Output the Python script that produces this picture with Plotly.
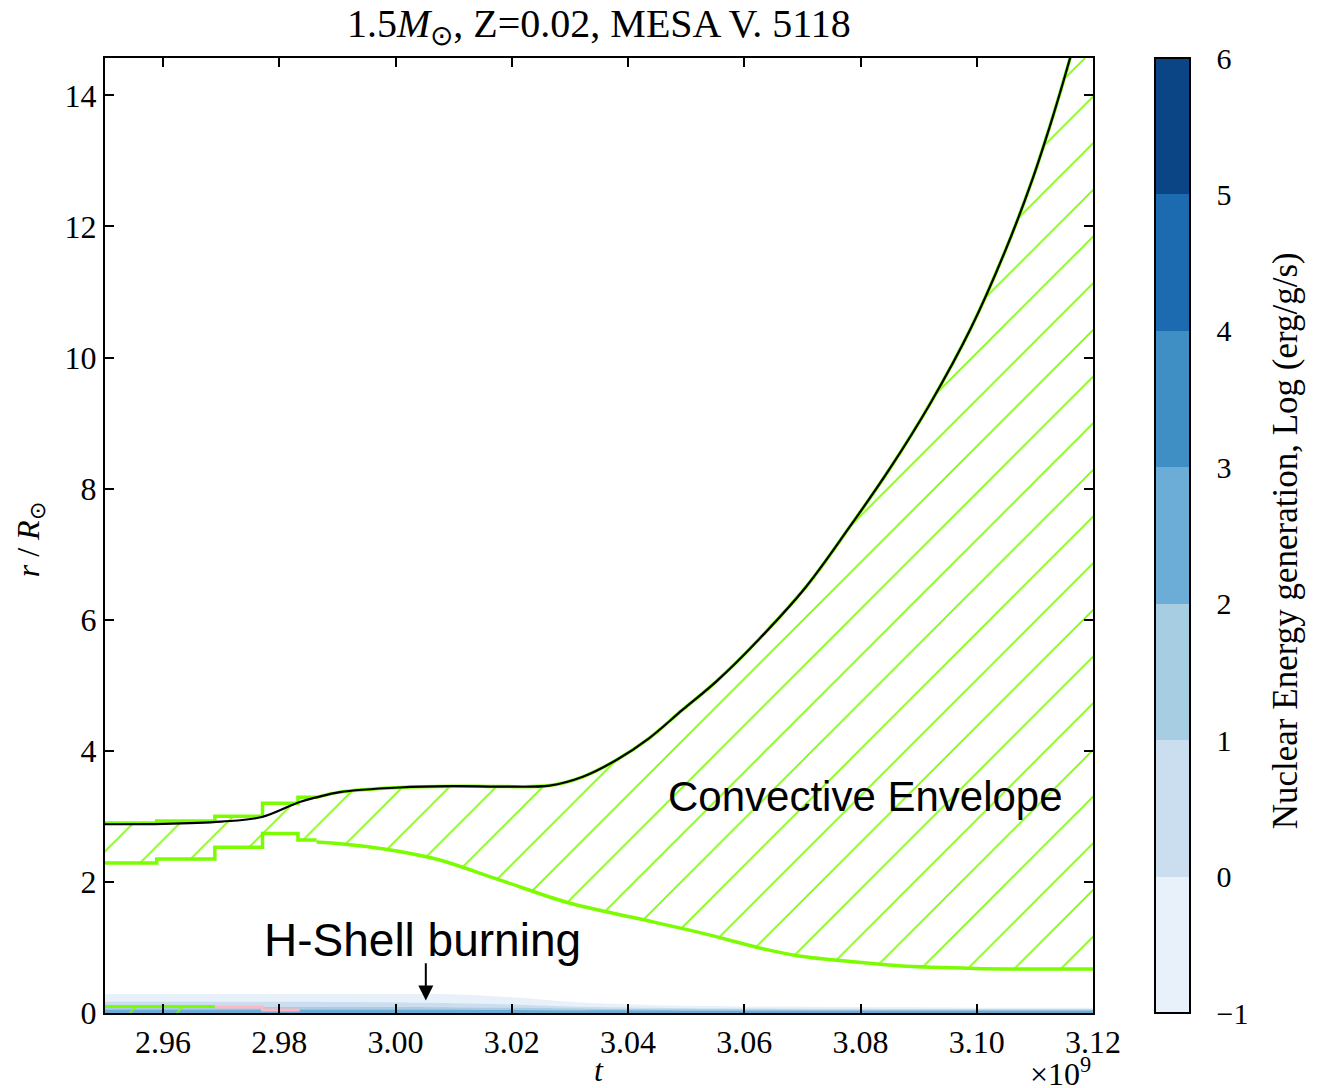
import plotly.graph_objects as go

# ---------------- data (t in units of 1e9 yr, r in R_sun) ----------------
# stellar surface (black line)
surf_t = [2.950, 2.960, 2.970, 2.977, 2.9835, 2.9864, 2.9904, 3.0007, 3.010, 3.018, 3.0265,
          3.0321, 3.038, 3.0436, 3.0493, 3.0552, 3.0625, 3.0706, 3.0780, 3.0850,
          3.0920, 3.0990, 3.1050, 3.1095, 3.1130, 3.1160, 3.120]
surf_r = [2.88, 2.885, 2.92, 2.99, 3.22, 3.29, 3.37, 3.44, 3.46, 3.455, 3.47,
          3.60, 3.86, 4.19, 4.62, 5.06, 5.70, 6.50, 7.40, 8.30,
          9.30, 10.45, 11.65, 12.70, 13.65, 14.55, 15.85]

# convective envelope: stepped part (early models)
step_t = [2.950, 2.9589, 2.9689, 2.9771, 2.9832]
step_end_t = 2.9864
env_top_step_r = [2.90, 2.93, 3.00, 3.20, 3.29]
env_bot_step_r = [2.29, 2.35, 2.53, 2.74, 2.64]

# convective envelope: lower boundary, smooth part
env_bot_t = [2.9864, 2.995, 3.0064, 3.0179, 3.0294, 3.0407, 3.0522, 3.0637,
             3.0694, 3.0801, 3.0866, 3.0995, 3.116, 3.120]
env_bot_r = [2.61, 2.54, 2.36, 2.03, 1.69, 1.46, 1.23, 0.97,
             0.87, 0.77, 0.72, 0.68, 0.67, 0.67]

# small convective core region near the centre
core_conv_t = [2.950, 2.9689]
core_conv_r = [0.10, 0.10]
pink_t = [2.9689, 2.9771, 2.9835]
pink_r = [0.09, 0.045, 0.045]

# nuclear energy generation bands (upper edge of each log level region)
burn_t = [2.95, 2.98, 3.00, 3.01, 3.02, 3.03, 3.04, 3.06, 3.08, 3.10, 3.12]
burn_levels = [-1, 0, 1, 2]
burn_top_r = {
    -1: [0.29, 0.29, 0.29, 0.285, 0.24, 0.17, 0.13, 0.10, 0.09, 0.08, 0.08],
    0:  [0.17, 0.17, 0.16, 0.15, 0.13, 0.10, 0.085, 0.07, 0.065, 0.06, 0.06],
    1:  [0.09, 0.09, 0.09, 0.085, 0.08, 0.07, 0.06, 0.055, 0.05, 0.05, 0.05],
    2:  [0.05, 0.05, 0.05, 0.05, 0.045, 0.04, 0.04, 0.035, 0.035, 0.035, 0.035],
}
level_colors = ['#e8f1fa', '#cadef0', '#a6cde2', '#6badd6', '#3f8fc5', '#1c6aaf', '#0b4586']
cbar_ticks = [-1, 0, 1, 2, 3, 4, 5, 6]
cbar_ticktext = ['\u22121', '0', '1', '2', '3', '4', '5', '6']

x_ticks = [2.96, 2.98, 3.00, 3.02, 3.04, 3.06, 3.08, 3.10, 3.12]
y_ticks = [0, 2, 4, 6, 8, 10, 12, 14]
x_range = [2.95, 3.12]
y_range = [0, 14.57]

GREEN = '#7CFC00'
SERIF = 'Liberation Serif'
SANS = 'Liberation Sans'
HATCH = dict(shape='/', fgcolor=GREEN, fgopacity=1, bgcolor='rgba(0,0,0,0)',
             size=33, solidity=0.05)


def expand_steps(t_edges, r_vals, t_end):
    xs, ys = [], []
    edges = list(t_edges) + [t_end]
    for i, r in enumerate(r_vals):
        xs += [edges[i], edges[i + 1]]
        ys += [r, r]
    return xs, ys


top_sx, top_sy = expand_steps(step_t, env_top_step_r, step_end_t)
bot_sx, bot_sy = expand_steps(step_t, env_bot_step_r, step_end_t)

surf_after = [(t, r) for t, r in zip(surf_t, surf_r) if t >= step_end_t]
up_t = [p[0] for p in surf_after]
up_r = [p[1] for p in surf_after]

fig = go.Figure()

# burning bands
for lvl in burn_levels:
    fig.add_trace(go.Scatter(
        x=burn_t, y=burn_top_r[lvl], mode='lines', fill='tozeroy', line_shape='spline',
        line=dict(width=0, color=level_colors[lvl + 1]),
        fillcolor=level_colors[lvl + 1], showlegend=False, hoverinfo='skip'))

# small central convective region (hatched)
fig.add_trace(go.Scatter(
    x=core_conv_t + core_conv_t[::-1], y=core_conv_r + [0.0, 0.0],
    mode='lines', fill='toself', line=dict(width=0), fillcolor='rgba(0,0,0,0)',
    fillpattern=HATCH, showlegend=False, hoverinfo='skip'))
fig.add_trace(go.Scatter(x=core_conv_t, y=core_conv_r, mode='lines',
                         line=dict(color=GREEN, width=3), showlegend=False))
fig.add_trace(go.Scatter(x=pink_t, y=pink_r, mode='lines', line_shape='hv',
                         line=dict(color='#ffb6c1', width=3), showlegend=False))

# convective envelope: stepped part (hatched polygon)
fig.add_trace(go.Scatter(
    x=top_sx + bot_sx[::-1], y=top_sy + bot_sy[::-1], mode='lines', fill='toself',
    line=dict(width=0), fillcolor='rgba(0,0,0,0)', fillpattern=HATCH,
    showlegend=False, hoverinfo='skip'))
fig.add_trace(go.Scatter(x=top_sx, y=top_sy, mode='lines',
                         line=dict(color=GREEN, width=3.5), showlegend=False))
fig.add_trace(go.Scatter(x=bot_sx, y=bot_sy, mode='lines',
                         line=dict(color=GREEN, width=3.5), showlegend=False))

# convective envelope: smooth part
fig.add_trace(go.Scatter(x=env_bot_t, y=env_bot_r, mode='lines', line_shape='spline',
                         line=dict(color=GREEN, width=3.5), showlegend=False))
fig.add_trace(go.Scatter(x=up_t, y=up_r, mode='lines', line_shape='spline',
                         fill='tonexty', fillcolor='rgba(0,0,0,0)', fillpattern=HATCH,
                         line=dict(color=GREEN, width=3.5), showlegend=False,
                         hoverinfo='skip'))

# stellar surface
fig.add_trace(go.Scatter(x=surf_t, y=surf_r, mode='lines', line_shape='spline',
                         line=dict(color='black', width=2.2), showlegend=False))

# colorbar carrier
n = len(level_colors)
cscale = []
for i, c in enumerate(level_colors):
    cscale.append([i / n, c])
    cscale.append([(i + 1) / n, c])

W, H = 1309, 1080
ML, MT, MR, MB = 97, 50, 224, 75
plot_w = W - ML - MR
cb_left_px = 1155 - 8
cb_thick = 35
cb_x = (cb_left_px - ML) / plot_w

fig.add_trace(go.Scatter(
    x=[3.0], y=[-10], mode='markers', showlegend=False, hoverinfo='skip',
    marker=dict(size=1, color=[0], colorscale=cscale, cmin=-1, cmax=6, showscale=True,
                colorbar=dict(thickness=cb_thick, thicknessmode='pixels', len=1, lenmode='fraction',
                              x=cb_x, xanchor='left', y=0.5, yanchor='middle',
                              ypad=0, xpad=0, outlinewidth=2, outlinecolor='black',
                              tickvals=cbar_ticks, ticktext=cbar_ticktext,
                              ticks='outside', ticklen=20, tickwidth=1, tickcolor='rgba(0,0,0,0)',
                              tickfont=dict(family=SERIF, size=30, color='black')))))

axis_common = dict(showline=True, linecolor='black', linewidth=2, mirror='ticks',
                   ticks='inside', ticklen=9, tickwidth=1.5, tickcolor='black',
                   showgrid=False, zeroline=False,
                   tickfont=dict(family=SERIF, size=32, color='black'))

fig.update_layout(
    width=W, height=H,
    margin=dict(l=ML, r=MR, t=MT, b=MB),
    paper_bgcolor='white', plot_bgcolor='white',
    xaxis=dict(range=x_range, tickvals=x_ticks,
               ticktext=[f'{v:.2f}' for v in x_ticks], **axis_common),
    yaxis=dict(range=y_range, tickvals=y_ticks, **axis_common),
)

# inside ticks on the colorbar's right edge
shapes = []
cb_right = (cb_left_px + cb_thick - 1 - ML) / plot_w
cb_tick_in = cb_right - 7 / plot_w
for v in cbar_ticks[1:-1]:
    yy = (v - cbar_ticks[0]) / (cbar_ticks[-1] - cbar_ticks[0])
    shapes.append(dict(type='line', xref='paper', yref='paper', x0=cb_tick_in, x1=cb_right,
                       y0=yy, y1=yy, line=dict(color='black', width=1.5)))
fig.update_layout(shapes=shapes)

ann = []
ann.append(dict(text='1.5<i>M</i><sub>\u2299</sub>, Z=0.02, MESA V. 5118', xref='paper', yref='paper',
                x=0.5, y=1.033, xanchor='center', yanchor='middle', showarrow=False,
                font=dict(family=SERIF, size=40, color='black')))
ann.append(dict(text='<i>t</i>', xref='paper', yref='paper', x=0.5, y=-0.060,
                xanchor='center', yanchor='middle', showarrow=False,
                font=dict(family=SERIF, size=32, color='black')))
ann.append(dict(text='\u00d710<sup>9</sup>', xref='paper', yref='paper', x=0.9666, y=-0.062,
                xanchor='center', yanchor='middle', showarrow=False,
                font=dict(family=SERIF, size=32, color='black')))
ann.append(dict(text='<i>r</i> / <i>R</i><sub>\u2299</sub>', xref='paper', yref='paper',
                x=-0.0759, y=0.495, xanchor='center', yanchor='middle', textangle=-90,
                showarrow=False, font=dict(family=SERIF, size=32, color='black')))
ann.append(dict(text='Nuclear Energy generation, Log (erg/g/s)', xref='paper', yref='paper',
                x=1.1943, y=0.495, xanchor='center', yanchor='middle', textangle=-90,
                showarrow=False, font=dict(family=SERIF, size=35, color='black')))
ann.append(dict(text='Convective Envelope', x=3.0808, y=3.31, xref='x', yref='y',
                xanchor='center', yanchor='middle', showarrow=False,
                font=dict(family=SANS, size=42, color='black')))
ann.append(dict(text='H-Shell burning', x=3.0046, y=1.11, xref='x', yref='y',
                xanchor='center', yanchor='middle', showarrow=False,
                font=dict(family=SANS, size=46, color='black')))
ann.append(dict(text='', x=3.0052, y=0.19, xref='x', yref='y', ax=3.0052, ay=0.78,
                axref='x', ayref='y', showarrow=True, arrowhead=2, arrowsize=1.5,
                arrowwidth=2, arrowcolor='black'))
fig.update_layout(annotations=ann)

fig.write_html('out.html')
